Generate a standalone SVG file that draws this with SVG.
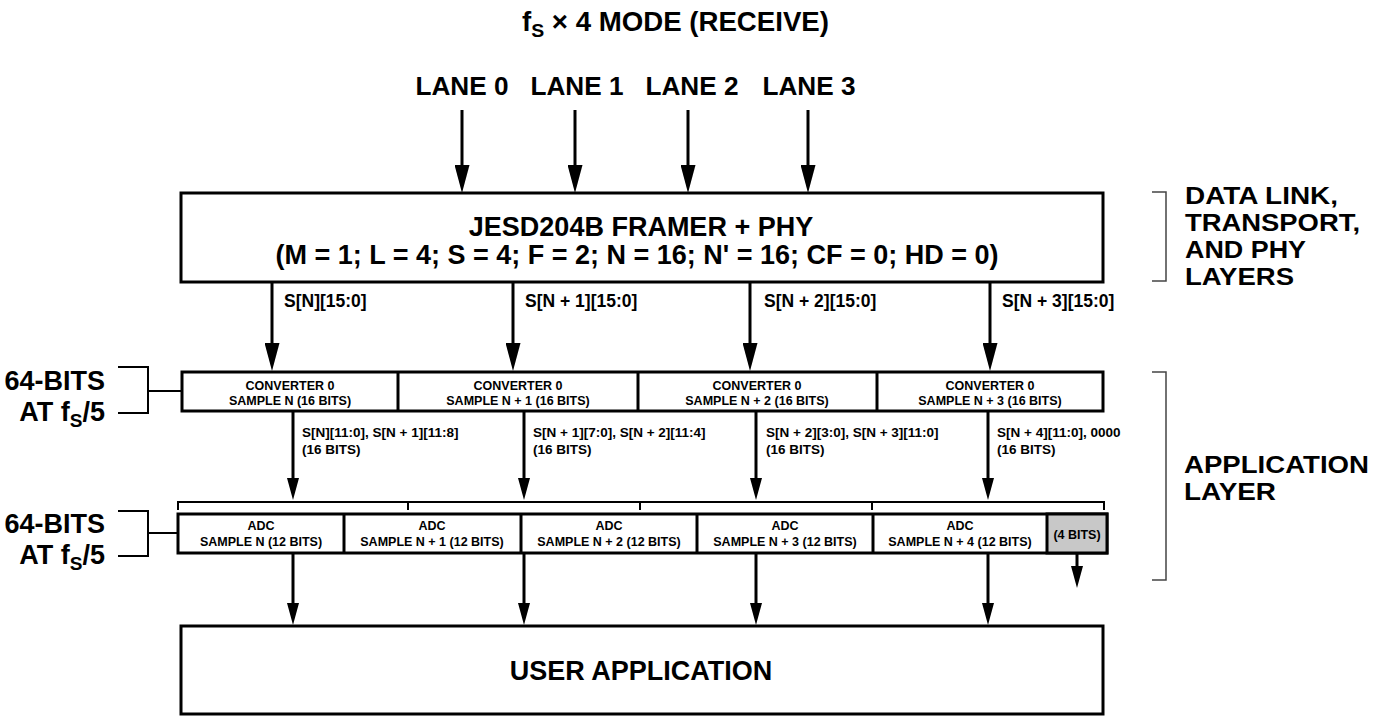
<svg xmlns="http://www.w3.org/2000/svg" width="1385" height="717" viewBox="0 0 1385 717">
<style>
text{font-family:"Liberation Sans",Arial,sans-serif;font-weight:bold;fill:#000}
.box{fill:#fff;stroke:#000;stroke-width:3}
.cell{fill:none;stroke:#000;stroke-width:3}
.gray{fill:#c8c8c8;stroke:#000;stroke-width:3}
.arr{stroke:#000;stroke-width:3;fill:none;marker-end:url(#ah)}
.arr2{stroke:#000;stroke-width:3;fill:none;marker-end:url(#ah2)}
.brk{stroke:#000;stroke-width:2;fill:none}
.brkr{stroke:#444;stroke-width:1.5;fill:none}
.big{font-size:27px}
.lane{font-size:25.5px}
.side{font-size:24px}
.mid{font-size:17.5px}
.sm{font-size:13.5px}
.cv{font-size:12.5px}
.c{text-anchor:middle}
</style>
<defs>
<marker id="ah" markerUnits="userSpaceOnUse" viewBox="0 0 28 15" markerWidth="28" markerHeight="15" refX="18" refY="7.5" orient="auto">
<path d="M0,0 L28,7.5 L0,15 Z" fill="#000"/>
</marker>
<marker id="ah2" markerUnits="userSpaceOnUse" viewBox="0 0 22 12" markerWidth="22" markerHeight="12" refX="12" refY="6" orient="auto">
<path d="M0,0 L22,6 L0,12 Z" fill="#000"/>
</marker>
</defs>

<g id="title">
<text x="522" y="31" class="big" textLength="307" lengthAdjust="spacingAndGlyphs">f<tspan font-size="19" dy="6">S</tspan><tspan dy="-6"> × 4 MODE (RECEIVE)</tspan></text>
</g>

<g id="lanes">
<text x="462" y="95" class="lane c" textLength="93" lengthAdjust="spacingAndGlyphs">LANE 0</text>
<text x="577" y="95" class="lane c" textLength="93" lengthAdjust="spacingAndGlyphs">LANE 1</text>
<text x="692" y="95" class="lane c" textLength="93" lengthAdjust="spacingAndGlyphs">LANE 2</text>
<text x="809" y="95" class="lane c" textLength="93" lengthAdjust="spacingAndGlyphs">LANE 3</text>
</g>

<g id="framer">
<rect class="box" x="181" y="193" width="922" height="89"/>
<text x="641" y="236" class="big c">JESD204B FRAMER + PHY</text>
<text x="637" y="264" class="big c">(M = 1; L = 4; S = 4; F = 2; N = 16; N' = 16; CF = 0; HD = 0)</text>
</g>

<g id="converters">
<rect class="box" x="182" y="372" width="921" height="39"/>
<line class="cell" x1="398" y1="372" x2="398" y2="411"/>
<line class="cell" x1="638" y1="372" x2="638" y2="411"/>
<line class="cell" x1="877" y1="372" x2="877" y2="411"/>
<text x="290" y="390" class="cv c">CONVERTER 0</text>
<text x="290" y="405" class="cv c">SAMPLE N (16 BITS)</text>
<text x="518" y="390" class="cv c">CONVERTER 0</text>
<text x="518" y="405" class="cv c">SAMPLE N + 1 (16 BITS)</text>
<text x="757" y="390" class="cv c">CONVERTER 0</text>
<text x="757" y="405" class="cv c">SAMPLE N + 2 (16 BITS)</text>
<text x="990" y="390" class="cv c">CONVERTER 0</text>
<text x="990" y="405" class="cv c">SAMPLE N + 3 (16 BITS)</text>
</g>

<g id="adc">
<rect class="box" x="178" y="514" width="929" height="39"/>
<rect class="gray" x="1047" y="514" width="60" height="39"/>
<line class="cell" x1="344" y1="514" x2="344" y2="553"/>
<line class="cell" x1="521" y1="514" x2="521" y2="553"/>
<line class="cell" x1="697" y1="514" x2="697" y2="553"/>
<line class="cell" x1="873" y1="514" x2="873" y2="553"/>
<text x="261" y="530" class="cv c">ADC</text>
<text x="261" y="546" class="cv c">SAMPLE N (12 BITS)</text>
<text x="432" y="530" class="cv c">ADC</text>
<text x="432" y="546" class="cv c">SAMPLE N + 1 (12 BITS)</text>
<text x="609" y="530" class="cv c">ADC</text>
<text x="609" y="546" class="cv c">SAMPLE N + 2 (12 BITS)</text>
<text x="785" y="530" class="cv c">ADC</text>
<text x="785" y="546" class="cv c">SAMPLE N + 3 (12 BITS)</text>
<text x="960" y="530" class="cv c">ADC</text>
<text x="960" y="546" class="cv c">SAMPLE N + 4 (12 BITS)</text>
<text x="1077" y="539" class="cv c">(4 BITS)</text>
</g>

<g id="user-application">
<rect class="box" x="181" y="626" width="922" height="88"/>
<text x="641" y="680" class="big c">USER APPLICATION</text>
</g>

<g id="left-labels">
<text x="105" y="390" class="big" text-anchor="end">64-BITS</text>
<text x="105" y="421" class="big" text-anchor="end">AT f<tspan font-size="19" dy="6">S</tspan><tspan dy="-6">/5</tspan></text>
<text x="105" y="533" class="big" text-anchor="end">64-BITS</text>
<text x="105" y="564" class="big" text-anchor="end">AT f<tspan font-size="19" dy="6">S</tspan><tspan dy="-6">/5</tspan></text>
<path class="brk" d="M118,367 H148 V413 H118 M148,391 H182"/>
<path class="brk" d="M118,511 H148 V556 H118 M148,533 H178"/>
</g>

<g id="right-labels">
<path class="brkr" d="M1152,192 H1166 V281 H1152"/>
<path class="brkr" d="M1152,372 H1166 V580 H1152"/>
<text x="1185" y="204" class="side" textLength="153" lengthAdjust="spacingAndGlyphs">DATA LINK,</text>
<text x="1185" y="231" class="side" textLength="175" lengthAdjust="spacingAndGlyphs">TRANSPORT,</text>
<text x="1185" y="258" class="side" textLength="121" lengthAdjust="spacingAndGlyphs">AND PHY</text>
<text x="1185" y="285" class="side" textLength="109" lengthAdjust="spacingAndGlyphs">LAYERS</text>
<text x="1184" y="473" class="side" textLength="185" lengthAdjust="spacingAndGlyphs">APPLICATION</text>
<text x="1184" y="500" class="side" textLength="92" lengthAdjust="spacingAndGlyphs">LAYER</text>
</g>

<g id="connectors">
<line class="arr" x1="462" y1="110" x2="462" y2="183"/>
<line class="arr" x1="575" y1="110" x2="575" y2="183"/>
<line class="arr" x1="688" y1="110" x2="688" y2="183"/>
<line class="arr" x1="808" y1="110" x2="808" y2="183"/>

<line class="arr" x1="272" y1="282" x2="272" y2="361"/>
<line class="arr" x1="513" y1="282" x2="513" y2="361"/>
<line class="arr" x1="750" y1="282" x2="750" y2="361"/>
<line class="arr" x1="990" y1="282" x2="990" y2="361"/>
<text x="284" y="307" class="mid">S[N][15:0]</text>
<text x="525" y="307" class="mid">S[N + 1][15:0]</text>
<text x="764" y="307" class="mid">S[N + 2][15:0]</text>
<text x="1002" y="307" class="mid">S[N + 3][15:0]</text>

<line class="arr2" x1="293" y1="411" x2="293" y2="490"/>
<line class="arr2" x1="524" y1="411" x2="524" y2="490"/>
<line class="arr2" x1="756" y1="411" x2="756" y2="490"/>
<line class="arr2" x1="988" y1="411" x2="988" y2="490"/>
<text x="302" y="437" class="sm">S[N][11:0], S[N + 1][11:8]</text>
<text x="302" y="454" class="sm">(16 BITS)</text>
<text x="533" y="437" class="sm">S[N + 1][7:0], S[N + 2][11:4]</text>
<text x="533" y="454" class="sm">(16 BITS)</text>
<text x="766" y="437" class="sm">S[N + 2][3:0], S[N + 3][11:0]</text>
<text x="766" y="454" class="sm">(16 BITS)</text>
<text x="997" y="437" class="sm">S[N + 4][11:0], 0000</text>
<text x="997" y="454" class="sm">(16 BITS)</text>

<path class="brk" d="M178,510 V502 H1104 V510 M408,502 V510 M640,502 V510 M872,502 V510"/>

<line class="arr2" x1="293" y1="553" x2="293" y2="615"/>
<line class="arr2" x1="524" y1="553" x2="524" y2="615"/>
<line class="arr2" x1="756" y1="553" x2="756" y2="615"/>
<line class="arr2" x1="988" y1="553" x2="988" y2="615"/>
<line class="arr2" x1="1077" y1="553" x2="1077" y2="578"/>
</g>
</svg>
